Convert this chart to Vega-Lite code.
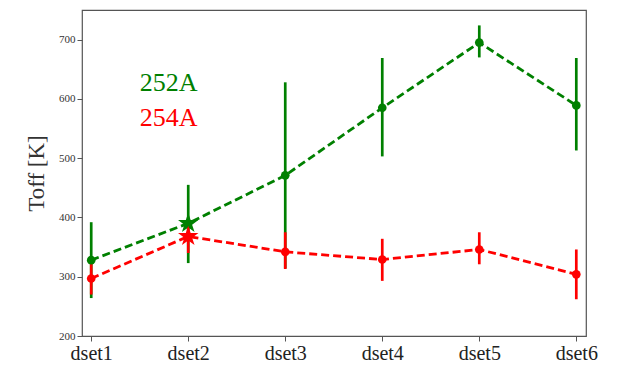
{
  "$schema": "https://vega.github.io/schema/vega-lite/v6.json",
  "autosize": "none",
  "padding": {"left": 82, "top": 10, "right": 31, "bottom": 29},
  "width": 504,
  "height": 326,
  "config": {
    "font": "Liberation Serif",
    "view": {"stroke": "#555", "strokeWidth": 1.2},
    "axis": {"grid": false, "domain": false, "tickColor": "#555", "tickSize": 5, "labelColor": "#333", "labelFont": "Liberation Serif"}
  },
  "datasets": {
    "toff": [
      {"set": 1, "series": "252A", "t": 328, "lo": 264, "hi": 392},
      {"set": 2, "series": "252A", "t": 390, "lo": 323, "hi": 455},
      {"set": 3, "series": "252A", "t": 471, "lo": 314, "hi": 628},
      {"set": 4, "series": "252A", "t": 585, "lo": 503, "hi": 669},
      {"set": 5, "series": "252A", "t": 695, "lo": 670, "hi": 724},
      {"set": 6, "series": "252A", "t": 589, "lo": 513, "hi": 669},
      {"set": 1, "series": "254A", "t": 297, "lo": 270, "hi": 322},
      {"set": 2, "series": "254A", "t": 368, "lo": 340, "hi": 385},
      {"set": 3, "series": "254A", "t": 342, "lo": 313, "hi": 375},
      {"set": 4, "series": "254A", "t": 329, "lo": 293, "hi": 364},
      {"set": 5, "series": "254A", "t": 346, "lo": 321, "hi": 375},
      {"set": 6, "series": "254A", "t": 304, "lo": 262, "hi": 346}
    ],
    "labels": [
      {"series": "252A", "set": 1.5, "t": 626},
      {"series": "254A", "set": 1.5, "t": 567}
    ]
  },
  "layer": [
    {
      "data": {"name": "toff"},
      "mark": {"type": "rule", "strokeWidth": 2.7},
      "encoding": {
        "x": {"field": "set", "type": "quantitative",
          "scale": {"domain": [0.905, 6.1], "nice": false, "zero": false},
          "axis": {"values": [1, 2, 3, 4, 5, 6], "labelExpr": "'dset' + datum.value", "labelFontSize": 20, "labelColor": "#222", "title": null, "labelPadding": 2}},
        "y": {"field": "lo", "type": "quantitative", "scale": {"domain": [200, 750], "nice": false, "zero": false},
          "axis": {"values": [200, 300, 400, 500, 600, 700], "labelFontSize": 11, "title": "Toff [K]", "titleFontSize": 23, "titleFontWeight": "normal", "titleColor": "#333", "titlePadding": 10}},
        "y2": {"field": "hi"},
        "color": {"field": "series", "type": "nominal",
          "scale": {"domain": ["252A", "254A"], "range": ["#008000", "#ff0000"]}, "legend": null}
      }
    },
    {
      "data": {"name": "toff"},
      "mark": {"type": "line", "strokeWidth": 2.8, "strokeDash": [8, 4]},
      "encoding": {
        "x": {"field": "set", "type": "quantitative"},
        "y": {"field": "t", "type": "quantitative"},
        "color": {"field": "series", "type": "nominal"}
      }
    },
    {
      "data": {"name": "toff"},
      "transform": [{"filter": "datum.set != 2"}],
      "mark": {"type": "point", "filled": true, "opacity": 1, "shape": "circle", "size": 75},
      "encoding": {
        "x": {"field": "set", "type": "quantitative"},
        "y": {"field": "t", "type": "quantitative"},
        "color": {"field": "series", "type": "nominal"}
      }
    },
    {
      "data": {"name": "toff"},
      "transform": [{"filter": "datum.set == 2"}],
      "mark": {"type": "point", "filled": true, "opacity": 1, "size": 460,
        "shape": "M0,-1L0.2245,-0.309L0.951,-0.309L0.363,0.118L0.588,0.809L0,0.382L-0.588,0.809L-0.363,0.118L-0.951,-0.309L-0.2245,-0.309Z"},
      "encoding": {
        "x": {"field": "set", "type": "quantitative"},
        "y": {"field": "t", "type": "quantitative"},
        "color": {"field": "series", "type": "nominal"}
      }
    },
    {
      "data": {"name": "labels"},
      "mark": {"type": "text", "align": "left", "baseline": "middle", "fontSize": 26},
      "encoding": {
        "x": {"field": "set", "type": "quantitative"},
        "y": {"field": "t", "type": "quantitative"},
        "text": {"field": "series"},
        "color": {"field": "series", "type": "nominal"}
      }
    }
  ]
}
